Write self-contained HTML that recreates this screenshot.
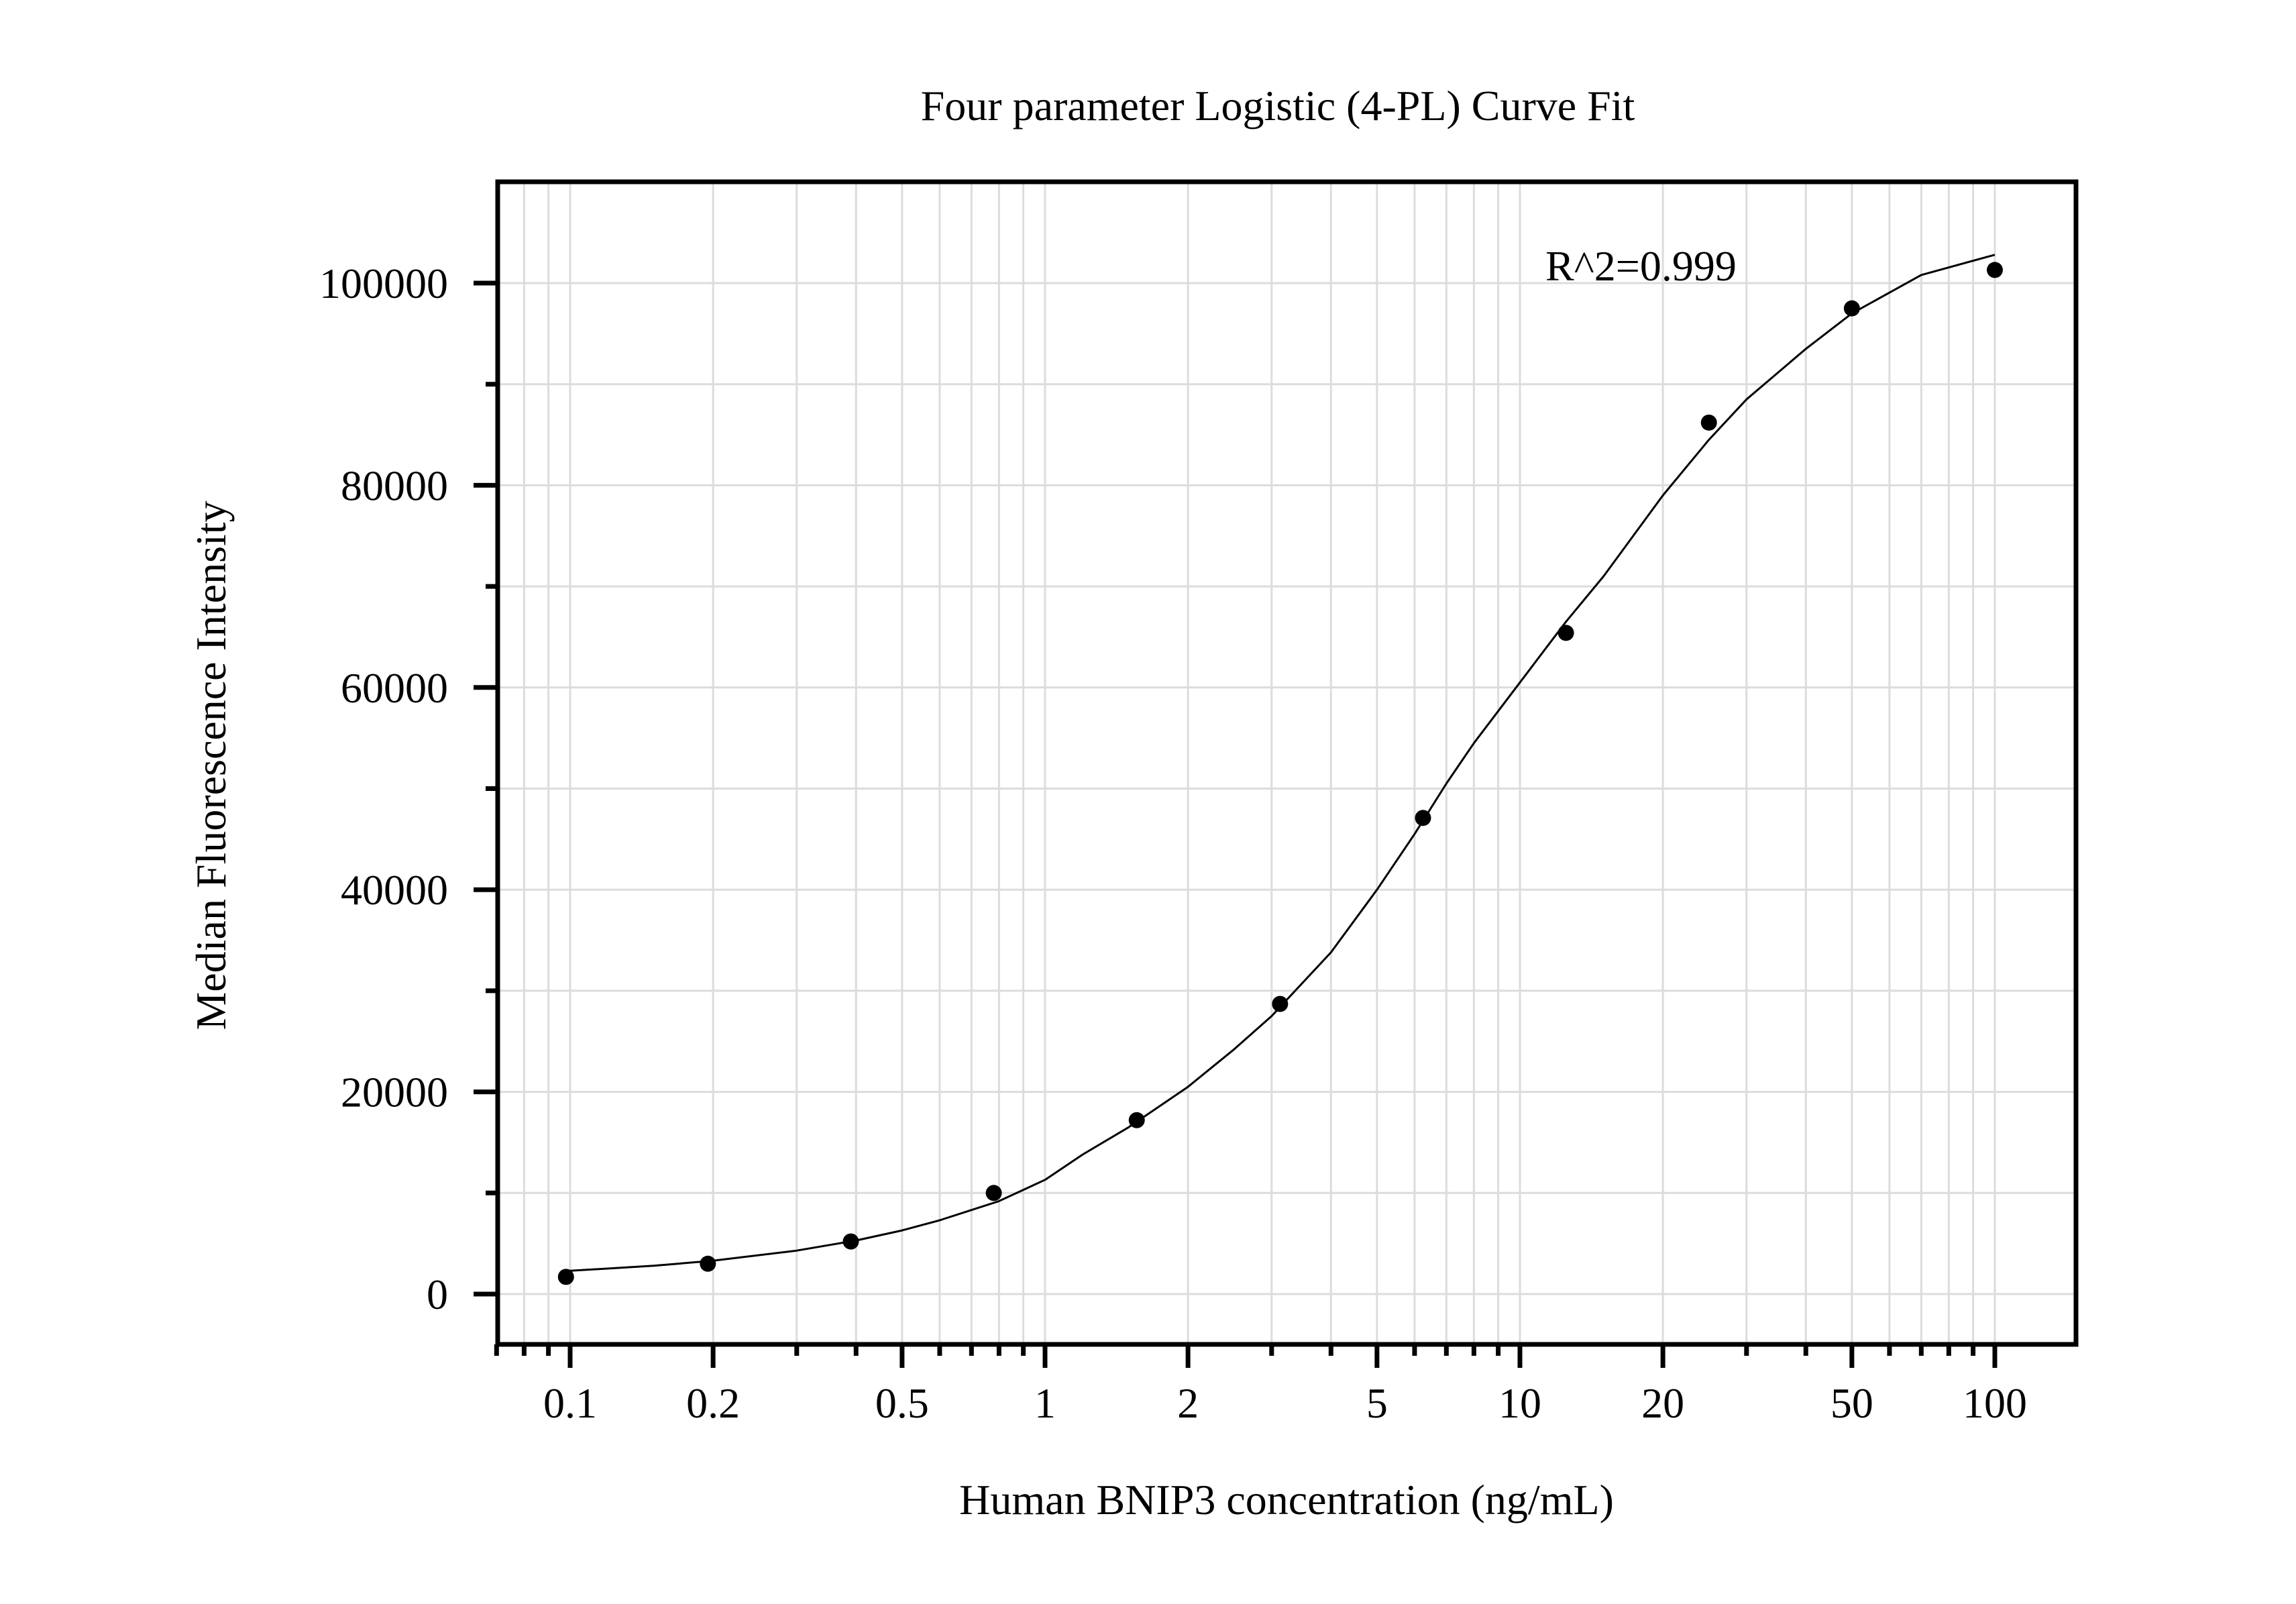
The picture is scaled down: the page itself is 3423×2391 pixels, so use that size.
<!DOCTYPE html>
<html><head><meta charset="utf-8"><style>
html,body{margin:0;padding:0;background:#fff;}
svg{display:block;font-family:"Liberation Serif",serif;}
</style></head><body>
<svg id="chart" width="3423" height="2391" viewBox="0 0 3423 2391" xmlns="http://www.w3.org/2000/svg">
<rect x="0" y="0" width="3423" height="2391" fill="#fff"/>
<g id="grid"></g>
<g id="curve"></g>
<g id="points"></g>
<rect x="742" y="271" width="2353" height="1733" fill="none" stroke="#000" stroke-width="7"/>
<g id="axes"></g>
<text x="1905" y="179" font-size="64" text-anchor="middle">Four parameter Logistic (4-PL) Curve Fit</text>
<text x="2304" y="418" font-size="64">R^2=0.999</text>
<text x="1918" y="2257" font-size="64" text-anchor="middle">Human BNIP3 concentration (ng/mL)</text>
<text transform="translate(336,1141) rotate(-90)" font-size="64" text-anchor="middle">Median Fluorescence Intensity</text>
</svg>
<script>
const xData = [0.098, 0.195, 0.39, 0.78, 1.56, 3.125, 6.25, 12.5, 25, 50, 100];
const yData = [1700, 3000, 5200, 10000, 17200, 28700, 47100, 65400, 86200, 97500, 101300];
const curveX = [0.1,0.15,0.2,0.3,0.4,0.5,0.6,0.8,1,1.2,1.5,2,2.5,3,4,5,6,7,8,10,12.5,15,20,25,30,40,50,70,100];
const curveY = [2300,2800,3300,4300,5300,6300,7300,9200,11300,13800,16500,20500,24200,27500,33800,40000,45500,50500,54500,60500,66500,71000,79000,84500,88500,93500,97000,100800,102800];
const xMajorTicks = [0.1, 0.2, 0.5, 1, 2, 5, 10, 20, 50, 100];
const xMajorLabels = ["0.1","0.2","0.5","1","2","5","10","20","50","100"];
const xMinorTicks = [0.07,0.08,0.09,0.3,0.4,0.6,0.7,0.8,0.9,3,4,6,7,8,9,30,40,60,70,80,90];
const yMajorTicks = [0, 20000, 40000, 60000, 80000, 100000];
const yMajorLabels = ["0","20000","40000","60000","80000","100000"];
const yMinorTicks = [10000, 30000, 50000, 70000, 90000];

const NS = "http://www.w3.org/2000/svg";
const X0 = 850, DEC = 708;
function sx(v){ return X0 + Math.log10(v/0.1)*DEC; }
function sy(v){ return 1929 - v*0.01507; }
const L = 742, R = 3095, T = 271, B = 2004;
function mk(tag, attrs, parent){
  const e = document.createElementNS(NS, tag);
  for (const k in attrs) e.setAttribute(k, attrs[k]);
  parent.appendChild(e); return e;
}
const grid = document.getElementById('grid');
const axes = document.getElementById('axes');
const gridX = xMajorTicks.concat(xMinorTicks);
gridX.forEach(v => {
  const l = mk('line', {x1:sx(v), x2:sx(v), y1:T, y2:B, stroke:'#dcdcdc', 'stroke-width':3}, grid);
  
  
});
yMajorTicks.concat(yMinorTicks).forEach(v => {
  const l = mk('line', {x1:L, x2:R, y1:sy(v), y2:sy(v), stroke:'#dcdcdc', 'stroke-width':3}, grid);
  
  
});
xMajorTicks.forEach((v, i) => {
  const t = mk('line', {x1:sx(v), x2:sx(v), y1:B, y2:B+35, stroke:'#000', 'stroke-width':7}, axes);
  
  
  const tx = mk('text', {x:sx(v), y:2113, 'font-size':64, 'text-anchor':'middle'}, axes);
  tx.textContent = xMajorLabels[i];
  
  
});
xMinorTicks.forEach(v => {
  const t = mk('line', {x1:sx(v), x2:sx(v), y1:B, y2:B+17, stroke:'#000', 'stroke-width':7}, axes);
  
  
});
yMajorTicks.forEach((v, i) => {
  const t = mk('line', {x1:L-36, x2:L, y1:sy(v), y2:sy(v), stroke:'#000', 'stroke-width':7}, axes);
  
  
  const tx = mk('text', {x:668, y:sy(v)+22, 'font-size':64, 'text-anchor':'end'}, axes);
  tx.textContent = yMajorLabels[i];
  
  
});
yMinorTicks.forEach(v => {
  const t = mk('line', {x1:L-18, x2:L, y1:sy(v), y2:sy(v), stroke:'#000', 'stroke-width':7}, axes);
  
  
});
const curveG = document.getElementById('curve');
const pts = curveX.map((v, i) => sx(v).toFixed(1) + ',' + sy(curveY[i]).toFixed(1)).join(' ');
const pl = mk('polyline', {points:pts, fill:'none', stroke:'#000', 'stroke-width':3, 'stroke-linejoin':'round'}, curveG);


const ptsG = document.getElementById('points');
xData.forEach((v, i) => {
  const c = mk('circle', {cx:sx(v), cy:sy(yData[i]), r:12, fill:'#000'}, ptsG);
  
  
});
</script>
</body></html>
